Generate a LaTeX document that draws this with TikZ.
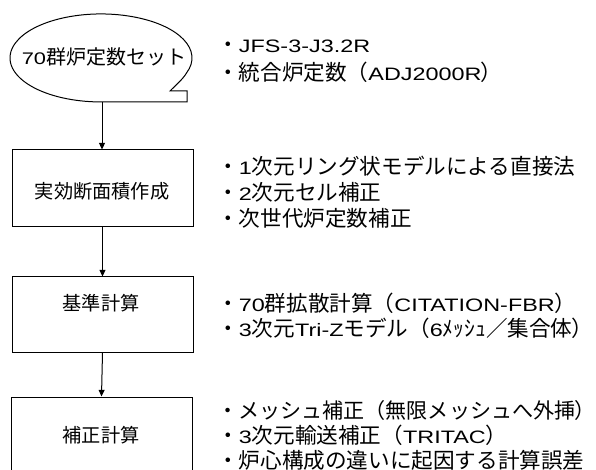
\documentclass[tikz,border=0pt]{standalone}
\usepackage{fontspec}
\newfontfamily\jp{Noto Sans CJK JP}
\newfontfamily\latfont[FakeStretch=1.3]{Liberation Sans}
\newcommand\latn[1]{{\latfont\fontsize{13.5}{17}\selectfont #1}}
\newcommand\latb[1]{{\latfont\fontsize{12.6}{17}\selectfont #1}}
\newcommand\pclose{{\addfontfeature{RawFeature=+palt}）}}
\usetikzlibrary{arrows.meta}
\tikzset{
  flowbox/.style={draw, line width=0.75pt, minimum width=181*0.75pt, inner sep=0pt},
  boxtext/.style={font=\jp\fontsize{14.4}{17}\selectfont, inner sep=0pt},
  bullet/.style={font=\jp\fontsize{16.2}{18}\selectfont, anchor=west, inner sep=0pt},
  flowarrow/.style={line width=0.75pt, -{Triangle[length=5pt,width=4.5pt]}},
}
\begin{document}
\begin{tikzpicture}[x=0.75pt,y=-0.75pt]
\clip (0,0) rectangle (596,470);
\fill[white] (0,0) rectangle (596,470);
% start shape (ellipse with squared tail)
\draw[line width=0.75pt] (170,91) .. controls (176,85) and (183,79) .. (186.5,73)
  arc[start angle=20, end angle=-270, x radius=91, y radius=44] -- (187,102) -- (187,91) -- cycle;
\node[boxtext, font=\jp\fontsize{15}{17}\selectfont] (start) at (104,57) {\latb{70}群炉定数セット};
\coordinate (sb) at (102,102);
% boxes
\node[flowbox, minimum height=77*0.75pt] (b1) at (102.5,188.5) {};
\node[flowbox, minimum height=75*0.75pt] (b2) at (102.5,314.5) {};
\node[flowbox, minimum height=106*0.75pt] (b3) at (101.5,450) {};
\node[boxtext] (t1) at (102,191) {実効断面積作成};
\node[boxtext] (t2) at (101,303) {基準計算};
\node[boxtext] (t3) at (101,435) {補正計算};
% connectors
\draw[flowarrow] (sb) -- (sb |- b1.north);
\draw[flowarrow] (b1.south) -- (b2.north);
\draw[flowarrow] (b2.south) -- (b3.north);
% bullet texts
\node[bullet] (g1a) at (217,46) {・\latn{JFS-3-J3.2R}};
\node[bullet] (g1b) at (217,72) {・統合炉定数（\latn{ADJ2000R}\pclose};
\node[bullet] (g2a) at (217,166) {・\latn{1}次元リング状モデルによる直接法};
\node[bullet] (g2b) at (217,192) {・\latn{2}次元セル補正};
\node[bullet] (g2c) at (217,218) {・次世代炉定数補正};
\node[bullet] (g3a) at (217,303) {・\latn{70}群拡散計算（\latn{CITATION-FBR}\pclose};
\node[bullet] (g3b) at (217,328) {・\latn{3}次元\latn{Tri-Z}モデル（\latn{6}ﾒｯｼｭ／集合体\pclose};
\node[bullet, font=\jp\fontsize{15.8}{18}\selectfont] (g4a) at (217,410) {・メッシュ補正（無限メッシュへ外挿\pclose};
\node[bullet] (g4b) at (217,435) {・\latn{3}次元輸送補正（\latn{TRITAC}\pclose};
\node[bullet] (g4c) at (217,460) {・炉心構成の違いに起因する計算誤差};
\end{tikzpicture}
\end{document}
